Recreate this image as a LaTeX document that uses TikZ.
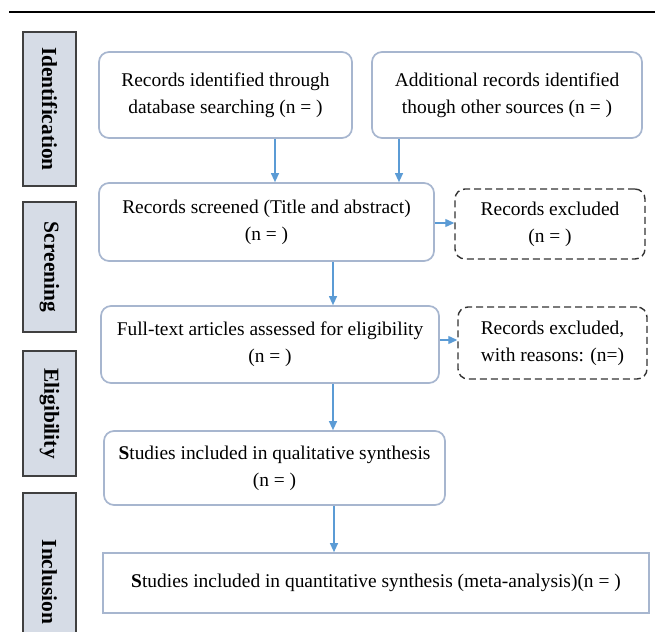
\documentclass[tikz,border=0pt]{standalone}
\usepackage{fontspec}
\setmainfont{Liberation Serif}
\usetikzlibrary{arrows.meta,calc}
\definecolor{boxline}{HTML}{A7B6CF}
\definecolor{sidefill}{HTML}{D6DCE6}
\definecolor{sideline}{HTML}{404040}
\definecolor{arrowblue}{HTML}{5B9BD5}
\definecolor{dashline}{HTML}{333333}
\begin{document}
\begin{tikzpicture}[x=1bp,y=-1bp,
  every node/.style={font=\fontsize{19.5}{27}\selectfont, inner sep=0pt, align=center},
  roundbox/.style={draw=boxline, line width=1.7bp, rounded corners=10bp, fill=white},
  plainbox/.style={draw=boxline, line width=1.7bp, fill=white},
  dashbox/.style={draw=dashline, line width=1.4bp, rounded corners=10bp, dash pattern=on 7bp off 4bp},
  sidebar/.style={draw=sideline, line width=1.2bp, fill=sidefill, rotate=-90, minimum height=53bp, font=\fontsize{21.5}{24}\selectfont\bfseries},
  arr/.style={draw=arrowblue, line width=1.2bp, -{Triangle[length=9bp,width=8bp]}}]
\useasboundingbox (0,0) rectangle (655,632);
% top rule
\coordinate (ruleL) at (9,12);
\coordinate (ruleR) at (655,12);
\draw[line width=1.8bp, black] (ruleL) -- (ruleR);
% side bars
\node[sidebar, minimum width=154bp] (sId) at (49.5,109) {Identification};
\node[sidebar, minimum width=130bp] (sSc) at (49.5,267) {Screening};
\node[sidebar, minimum width=125bp] (sEl) at (49.5,413.5) {Eligibility};
\node[sidebar, minimum width=178bp] (sIn) at (49.5,582) {Inclusion};
% boxes
\node[roundbox, minimum width=253bp, minimum height=86bp] (id) at (225.5,95) {Records identified through\\database searching (n = )};
\node[roundbox, minimum width=270bp, minimum height=86bp] (add) at (507,95) {Additional records identified\\though other sources (n = )};
\node[roundbox, minimum width=335bp, minimum height=78bp] (scr) at (266.5,222) {Records screened (Title and abstract)\\(n = )};
\node[dashbox, minimum width=190bp, minimum height=70bp] (exc1) at (550,224) {Records excluded\\(n = )};
\node[roundbox, minimum width=338bp, minimum height=77bp] (full) at (270,344.5) {Full-text articles assessed for eligibility\\(n = )};
\node[dashbox, minimum width=189bp, minimum height=72bp] (exc2) at (552.5,343) {Records excluded,\\with reasons: (n=)};
\node[roundbox, minimum width=341bp, minimum height=74bp] (qual) at (274.5,468) {\textbf{S}tudies included in qualitative synthesis\\(n = )};
\node[plainbox, minimum width=546bp, minimum height=60bp] (quant) at (376,583) {\textbf{S}tudies included in quantitative synthesis (meta-analysis)(n = )};
% arrow guide coordinates
\coordinate (a1) at (275,0);
\coordinate (a2) at (399,0);
\coordinate (a3) at (333,0);
\coordinate (a4) at (334,0);
\coordinate (h1) at (0,223);
\coordinate (h2) at (0,340);
% connectors
\draw[arr] (id.south -| a1) -- (scr.north -| a1);
\draw[arr] (add.south -| a2) -- (scr.north -| a2);
\draw[arr] (scr.east |- h1) -- (exc1.west |- h1);
\draw[arr] (scr.south -| a3) -- (full.north -| a3);
\draw[arr] (full.east |- h2) -- (exc2.west |- h2);
\draw[arr] (full.south -| a3) -- (qual.north -| a3);
\draw[arr] (qual.south -| a4) -- (quant.north -| a4);
\end{tikzpicture}
\end{document}
